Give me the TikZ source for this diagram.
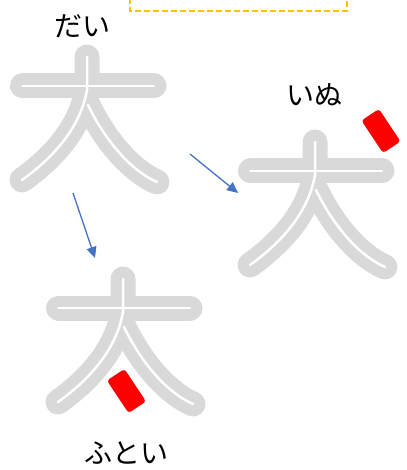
\documentclass[tikz,border=0pt]{standalone}
\usepackage{fontspec}
\newfontfamily\jp{Noto Sans CJK JP}
\usetikzlibrary{arrows.meta}
\definecolor{strokegray}{HTML}{D9D9D9}
\definecolor{arrowblue}{HTML}{4472C4}
\definecolor{boxyellow}{HTML}{FFC000}
\definecolor{markred}{HTML}{FF0000}
\tikzset{
  daistroke/.style={line width=25pt, strokegray, line cap=round, line join=round},
  daicore/.style={line width=2.5pt, white, line cap=round, line join=round},
  dai/.pic={
    \draw[daistroke] (-64.5,0) -- (67,0);
    \draw[daistroke] (0,-29) -- (0,4) .. controls (-7,44) and (-37,74) .. (-65,94);
    \draw[daistroke] (1,19) .. controls (18,54) and (43,84) .. (70,96);
    \draw[daicore] (-64.5,0) -- (67,0);
    \draw[daicore] (0,-29) -- (0,4) .. controls (-7,44) and (-37,74) .. (-65,94);
    \draw[daicore] (1,19) .. controls (18,54) and (43,84) .. (70,96);
  },
  kana/.style={font=\jp\fontsize{28}{32}\selectfont, inner sep=0pt, text=black},
  redmark/.style={fill=markred, draw=none, rounded corners=3pt, minimum width=21pt, minimum height=39pt, inner sep=0pt, rotate=33.7},
  flow/.style={arrowblue, line width=1.3pt, -{Triangle[length=11pt,width=10pt]}},
  boxdash/.style={boxyellow, line width=2.5pt, dash pattern=on 6pt off 3pt}
}
\begin{document}
\begin{tikzpicture}[x=1pt, y=-1pt]
\useasboundingbox (0,0) rectangle (406,470);
\draw[boxdash] (130,-20) rectangle (347,11);
\pic (c1) at (87,86) {dai};
\pic (c2) at (315,171) {dai};
\pic (c3) at (123,308) {dai};
\node[kana] (dai) at (82,26) {だい};
\node[kana] (inu) at (314,95) {いぬ};
\node[kana] (futoi) at (126,453) {ふとい};
\node[redmark] (m1) at (381,131) {};
\node[redmark] (m2) at (126.5,391) {};
\coordinate (a1s) at (190,154);
\coordinate (a1e) at (238,193);
\coordinate (a2s) at (73,193);
\coordinate (a2e) at (95,258);
\draw[flow] (a1s) -- (a1e);
\draw[flow] (a2s) -- (a2e);
\end{tikzpicture}
\end{document}
